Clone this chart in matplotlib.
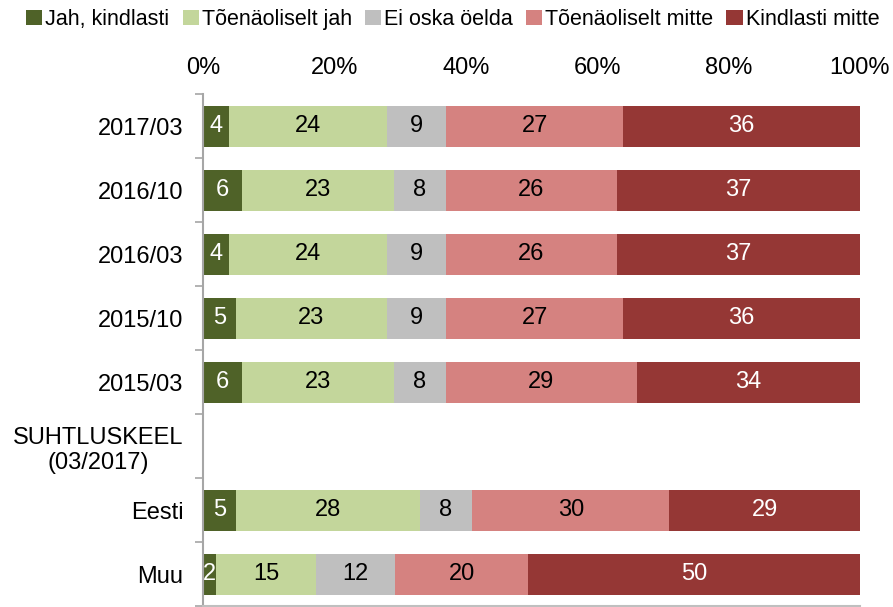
import matplotlib.pyplot as plt
import numpy as np
from matplotlib.patches import Patch

plt.rcParams['font.family'] = ['Liberation Sans', 'DejaVu Sans']

categories = ['2017/03', '2016/10', '2016/03', '2015/10', '2015/03',
              'SUHTLUSKEEL\n(03/2017)', 'Eesti', 'Muu']
series = ['Jah, kindlasti', 'Tõenäoliselt jah', 'Ei oska öelda',
          'Tõenäoliselt mitte', 'Kindlasti mitte']
jah_kindlasti = [4, 6, 4, 5, 6, np.nan, 5, 2]
toen_jah = [24, 23, 24, 23, 23, np.nan, 28, 15]
ei_oska = [9, 8, 9, 9, 8, np.nan, 8, 12]
toen_mitte = [27, 26, 26, 27, 29, np.nan, 30, 20]
kindlasti_mitte = [36, 37, 37, 36, 34, np.nan, 29, 50]

colors = ['#4F6228', '#C3D69B', '#BFBFBF', '#D58280', '#953735']
text_colors = ['white', 'black', 'black', 'black', 'white']

vals = np.array([jah_kindlasti, toen_jah, ei_oska, toen_mitte, kindlasti_mitte], dtype=float)
totals = np.nansum(vals, axis=0)
totals[totals == 0] = 1
shares = vals / totals * 100

fig = plt.figure(figsize=(8.93, 6.07), dpi=100)
ax = fig.add_axes([0.2273, 0.0016, 0.7357, 0.8435])

y = np.arange(len(categories))
left = np.zeros(len(categories))
for i in range(len(series)):
    w = np.nan_to_num(shares[i])
    ax.barh(y, w, left=left, height=0.64, color=colors[i], edgecolor='none')
    for j in range(len(categories)):
        if not np.isnan(vals[i, j]):
            ax.text(left[j] + w[j] / 2, y[j], '%d' % vals[i, j], ha='center', va='center',
                    fontsize=17, color=text_colors[i])
    left = left + w

ax.set_xlim(0, 100)
ax.set_ylim(len(categories) - 0.5, -0.5)
ax.xaxis.tick_top()
ax.set_xticks(np.arange(0, 101, 20))
ax.set_xticklabels(['%d%%' % v for v in range(0, 101, 20)], fontsize=17)
ax.tick_params(axis='x', length=0, pad=11)
ax.set_yticks(y)
ax.set_yticklabels(categories, fontsize=17, multialignment='center')
ax.tick_params(axis='y', which='major', length=0, pad=14)
ax.set_yticks(np.arange(-0.5, len(categories), 1), minor=True)
ax.tick_params(axis='y', which='minor', length=6, color='#A6A6A6', width=1.2)
for s in ['top', 'right']:
    ax.spines[s].set_visible(False)
ax.spines['left'].set_color('#A6A6A6')
ax.spines['left'].set_linewidth(1.5)
ax.spines['bottom'].set_color('#BFBFBF')
ax.spines['bottom'].set_linewidth(1.5)

handles = [Patch(facecolor=c, edgecolor='none') for c in colors]
fig.legend(handles, series, loc='center', bbox_to_anchor=(0.507, 0.968), ncol=5,
           frameon=False, fontsize=15.5, handlelength=0.75, handleheight=0.75,
           handletextpad=0.15, columnspacing=0.6)

fig.savefig('out.png', dpi=100)
